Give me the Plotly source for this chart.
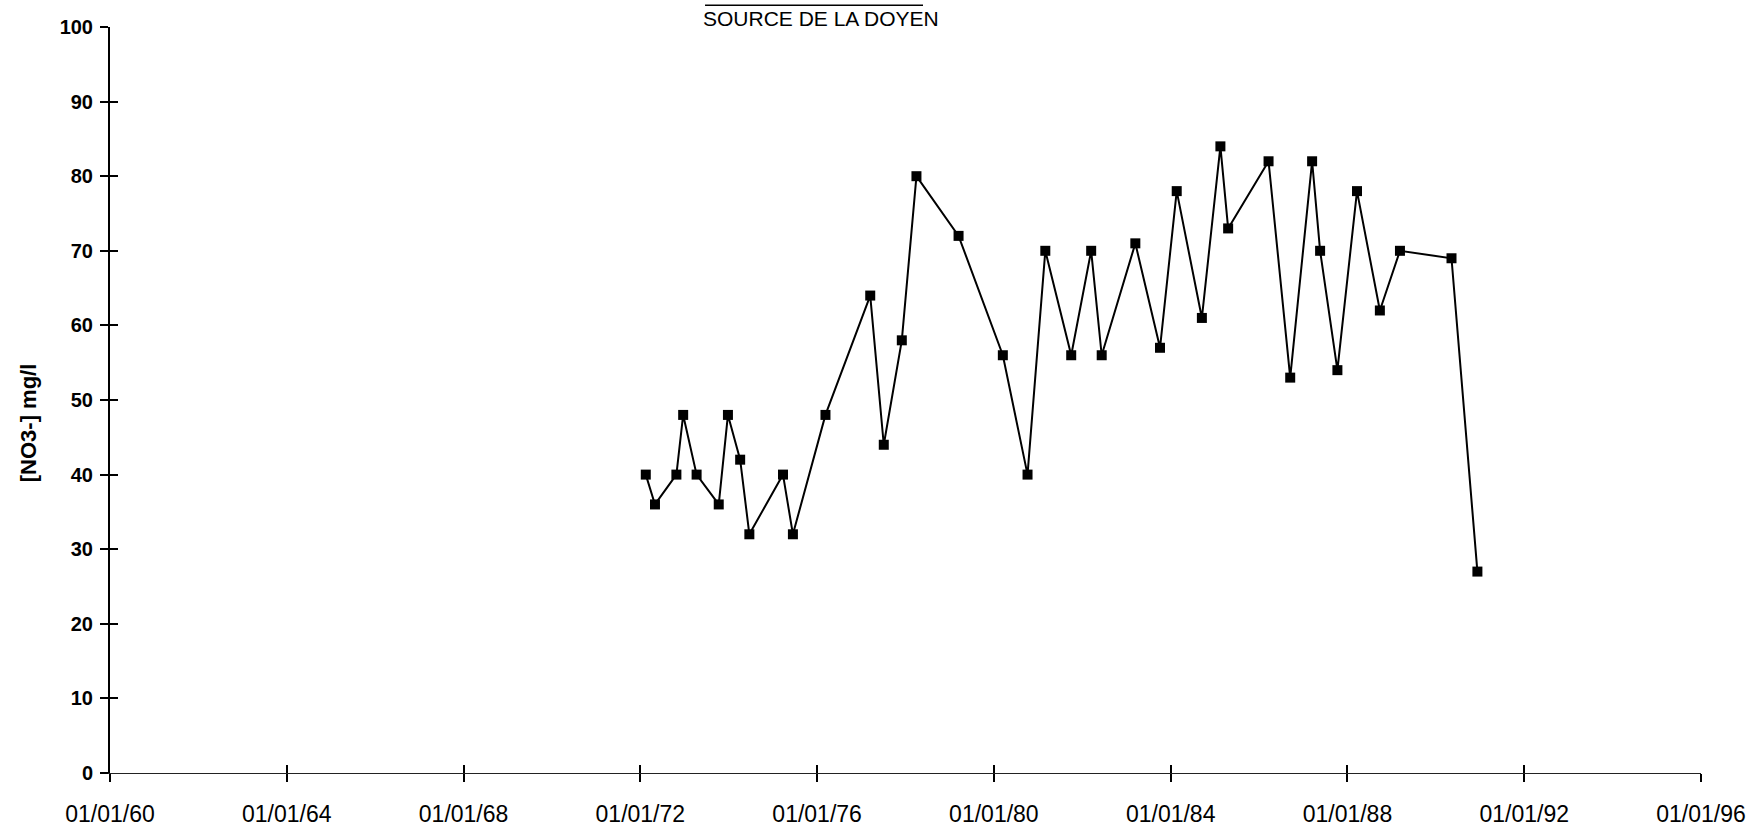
import plotly.graph_objects as go

# Sampling dates and nitrate concentrations
dates = [
    "1972-02-15", "1972-05-01", "1972-10-25", "1972-12-20", "1973-04-10",
    "1973-10-10", "1973-12-25", "1974-04-05", "1974-06-20", "1975-03-25",
    "1975-06-15", "1976-03-10", "1977-03-15", "1977-07-05", "1977-12-01",
    "1978-04-01", "1979-03-15", "1980-03-15", "1980-10-05", "1981-03-01",
    "1981-10-01", "1982-03-15", "1982-06-10", "1983-03-15", "1983-10-05",
    "1984-02-20", "1984-09-15", "1985-02-15", "1985-04-20", "1986-03-20",
    "1986-09-15", "1987-03-15", "1987-05-20", "1987-10-10", "1988-03-20",
    "1988-09-25", "1989-03-10", "1990-05-10", "1990-12-10",
]
nitrate = [
    40, 36, 40, 48, 40,
    36, 48, 42, 32, 40,
    32, 48, 64, 44, 58,
    80, 72, 56, 40, 70,
    56, 70, 56, 71, 57,
    78, 61, 84, 73, 82,
    53, 82, 70, 54, 78,
    62, 70, 69, 27,
]

tick_years = list(range(1960, 1997, 4))
tick_dates = [f"{y}-01-01" for y in tick_years]
tick_text = [f"01/01/{y % 100:02d}" for y in tick_years]
y_ticks = list(range(0, 101, 10))

title_text = "SOURCE DE LA DOYEN"
y_title = "[NO3-] mg/l"

x_range = ["1960-01-01", "1996-01-01"]
y_range = [0, 100]

fig = go.Figure()
fig.add_trace(go.Scatter(
    x=dates, y=nitrate, mode="lines+markers",
    line=dict(color="black", width=2),
    marker=dict(symbol="square", size=10, color="black"),
    showlegend=False, xaxis="x", yaxis="y",
))
# invisible copy to activate the overlay axes (inner halves of crossing ticks)
fig.add_trace(go.Scatter(
    x=dates, y=nitrate, mode="markers", marker=dict(opacity=0),
    hoverinfo="skip", showlegend=False, xaxis="x2", yaxis="y2",
))

font_family = "Liberation Sans, Arial, sans-serif"

fig.update_layout(
    width=1755, height=830,
    paper_bgcolor="white", plot_bgcolor="white",
    margin=dict(l=110, r=54, t=27, b=57),
    showlegend=False,
    xaxis=dict(
        type="date", range=x_range, tickvals=tick_dates, ticktext=tick_text,
        ticks="outside", ticklen=8, tickcolor="black", tickwidth=1.5,
        showline=True, linecolor="#222222", linewidth=1,
        showgrid=False, zeroline=False, automargin=False,
        tickfont=dict(family=font_family, size=23, color="black"),
        ticklabelstandoff=12,
    ),
    yaxis=dict(
        range=y_range, tickvals=y_ticks,
        ticks="outside", ticklen=8, tickcolor="black", tickwidth=1.5,
        showline=True, linecolor="black", linewidth=2,
        showgrid=False, zeroline=False, automargin=False,
        tickfont=dict(family=font_family, size=20, color="black", weight="bold"),
        ticklabelstandoff=3,
    ),
    xaxis2=dict(
        type="date", range=x_range, tickvals=tick_dates, overlaying="x",
        anchor="y2", side="bottom", automargin=False,
        ticks="inside", ticklen=8, tickcolor="black", tickwidth=1.5,
        showticklabels=False, showline=False, showgrid=False, zeroline=False,
    ),
    yaxis2=dict(
        range=y_range, tickvals=y_ticks, overlaying="y",
        anchor="x2", side="left", automargin=False,
        ticks="inside", ticklen=8, tickcolor="black", tickwidth=1.5,
        showticklabels=False, showline=False, showgrid=False, zeroline=False,
    ),
)

fig.add_annotation(
    text=title_text, xref="paper", yref="paper", x=0.447, y=1.012,
    xanchor="center", yanchor="middle", showarrow=False,
    font=dict(family=font_family, size=21, color="black"),
)
fig.add_shape(
    type="line", xref="paper", yref="paper", x0=0.374, x1=0.511, y0=1.029, y1=1.029,
    line=dict(color="black", width=1.5),
)
fig.add_annotation(
    text=y_title, xref="paper", yref="paper", x=-0.051, y=0.47,
    xanchor="center", yanchor="middle", textangle=-90, showarrow=False,
    font=dict(family=font_family, size=22, color="black", weight="bold"),
)

fig.write_html("out.html", config={"displayModeBar": False},
               post_script="document.body.style.margin='0px';")
